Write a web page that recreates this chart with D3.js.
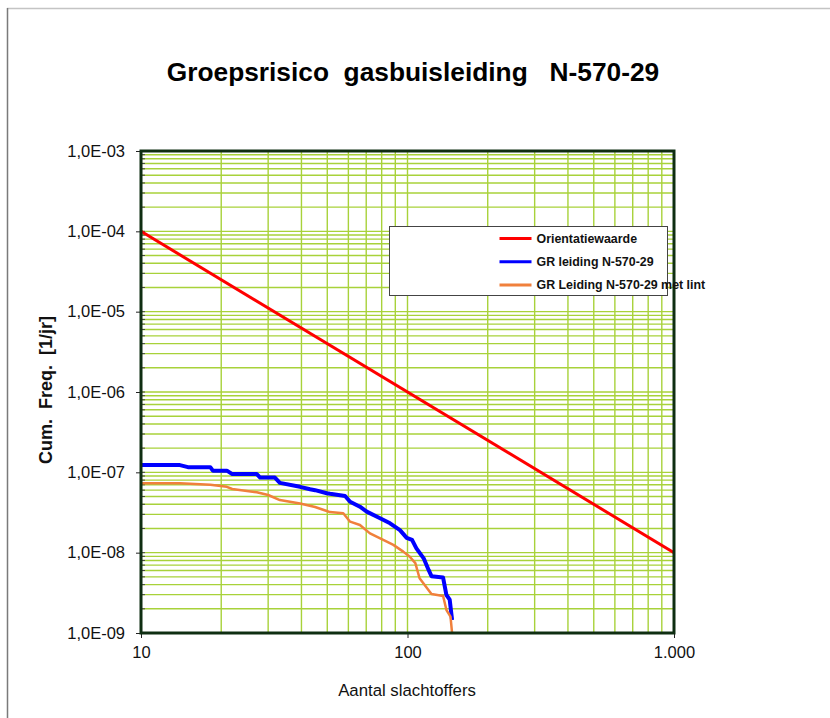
<!DOCTYPE html>
<html>
<head>
<meta charset="utf-8">
<script src="https://cdn.jsdelivr.net/npm/d3@7"></script>
<style>
  html, body { margin: 0; padding: 0; background: #fff; }
  svg { display: block; font-family: "Liberation Sans", Arial, sans-serif; }
</style>
</head>
<body>
<svg id="chart" width="830" height="718"></svg>
<script>
// FN-curve: cumulative frequency of N or more victims
const titleText = "Groepsrisico  gasbuisleiding   N-570-29";
const xTitle = "Aantal slachtoffers";
const yTitle = "Cum.  Freq.  [1/jr]";

const xDomain = [10, 1000];
const yDomain = [1e-9, 1e-3];
const xTickValues = [10, 100, 1000];
const xTickLabels = ["10", "100", "1.000"];
const yTickValues = [1e-3, 1e-4, 1e-5, 1e-6, 1e-7, 1e-8, 1e-9];
const yTickLabels = ["1,0E-03", "1,0E-04", "1,0E-05", "1,0E-06", "1,0E-07", "1,0E-08", "1,0E-09"];

// Oriëntatiewaarde: 1e-4 at N=10, 1e-8 at N=1000
const orientatieN = [10, 1000];
const orientatieF = [1e-4, 1e-8];

// GR leiding N-570-29
const leidingN = [10, 14, 15, 18.2, 18.6, 21, 22, 27.2, 28, 31.8, 33.2, 39.5, 43.1, 45, 49.8, 51.2, 58.3, 60.9, 66.3, 70.3, 78.9, 86, 93.7, 99.3, 104, 108, 115, 120, 123, 136, 140, 144, 147];
const leidingF = [1.23e-7, 1.23e-7, 1.16e-7, 1.16e-7, 1.05e-7, 1.05e-7, 9.5e-8, 9.5e-8, 8.6e-8, 8.6e-8, 7.4e-8, 6.6e-8, 6.15e-8, 6.0e-8, 5.5e-8, 5.4e-8, 5.07e-8, 4.3e-8, 3.73e-8, 3.24e-8, 2.68e-8, 2.32e-8, 1.91e-8, 1.53e-8, 1.44e-8, 1.13e-8, 8.5e-9, 6.1e-9, 5.1e-9, 4.9e-9, 2.97e-9, 2.6e-9, 1.45e-9];

// GR Leiding N-570-29 met lint
const lintN = [10, 14, 18.2, 21, 22, 27.2, 30, 33.2, 39.5, 45, 49.8, 51.2, 57.4, 60.9, 66.3, 72.3, 81.1, 88.5, 96.4, 102, 107, 111, 116, 123, 136, 140, 145, 147];
const lintF = [7.3e-8, 7.3e-8, 7.0e-8, 6.6e-8, 6.2e-8, 5.64e-8, 5.22e-8, 4.52e-8, 4.1e-8, 3.7e-8, 3.3e-8, 3.2e-8, 3.09e-8, 2.43e-8, 2.21e-8, 1.74e-8, 1.44e-8, 1.25e-8, 1.03e-8, 8.9e-9, 7.4e-9, 4.8e-9, 3.95e-9, 3.06e-9, 2.89e-9, 1.93e-9, 1.6e-9, 1.0e-9];

const seriesNames = ["Orientatiewaarde", "GR leiding N-570-29", "GR Leiding N-570-29 met lint"];
const seriesColors = ["#ff0000", "#0000ff", "#f0803c"];
const seriesWidths = [3, 4, 2.5];

const series = [
  { name: seriesNames[0], n: orientatieN, f: orientatieF },
  { name: seriesNames[1], n: leidingN, f: leidingF },
  { name: seriesNames[2], n: lintN, f: lintF }
].map((s, i) => ({ ...s, color: seriesColors[i], width: seriesWidths[i],
  pts: s.n.map((v, j) => [v, s.f[j]]) }));

const svg = d3.select("#chart");
const plot = { left: 141, top: 151, right: 674, bottom: 633 };
const labelFont = "'Liberation Sans', Arial, sans-serif";

// outer chart frame (only top and left edges are in view)
svg.append("line").attr("x1", 7).attr("x2", 830).attr("y1", 8.5).attr("y2", 8.5)
  .attr("stroke", "#c4c4c4").attr("stroke-width", 1.5);
svg.append("line").attr("x1", 7.5).attr("x2", 7.5).attr("y1", 8).attr("y2", 718)
  .attr("stroke", "#7a7a7a").attr("stroke-width", 1.5);

const x = d3.scaleLog().domain(xDomain).range([plot.left, plot.right]);
const y = d3.scaleLog().domain(yDomain).range([plot.bottom, plot.top]);

// minor/major grid values
const xGrid = [];
for (let d = 10; d < 1000; d *= 10) for (let k = 1; k < 10; k++) xGrid.push(d * k);
const yGrid = [];
for (let e = -9; e < -3; e++) for (let k = 1; k < 10; k++) yGrid.push(k * Math.pow(10, e));

const grid = svg.append("g").attr("stroke", "#a8d23a").attr("stroke-width", 1.4);
grid.selectAll("line.vx").data(xGrid.filter(v => v > 10)).join("line")
  .attr("x1", d => x(d)).attr("x2", d => x(d))
  .attr("y1", plot.top).attr("y2", plot.bottom);
grid.selectAll("line.hy").data(yGrid.filter(v => v > 1e-9)).join("line")
  .attr("y1", d => y(d)).attr("y2", d => y(d))
  .attr("x1", plot.left).attr("x2", plot.right);

// inner minor ticks on the y axis
svg.append("g").attr("stroke", "#444").attr("stroke-width", 1)
  .selectAll("line").data(yGrid).join("line")
  .attr("x1", plot.left).attr("x2", plot.left + 4)
  .attr("y1", d => y(d)).attr("y2", d => y(d));

// axes with labels
const xAxis = d3.axisBottom(x).tickValues(xTickValues)
  .tickFormat((d, i) => xTickLabels[i]).tickSize(5).tickPadding(8);
const gx = svg.append("g").attr("transform", `translate(0,${plot.bottom})`).call(xAxis);
gx.select(".domain").remove();
gx.selectAll("line").attr("stroke", "#222");
gx.selectAll("text").attr("font-size", 16.5).attr("fill", "#111").attr("font-family", labelFont);

const yAxis = d3.axisLeft(y).tickValues(yTickValues)
  .tickFormat((d, i) => yTickLabels[i]).tickSize(5).tickPadding(11);
const gy = svg.append("g").attr("transform", `translate(${plot.left},0)`).call(yAxis);
gy.select(".domain").remove();
gy.selectAll("line").attr("stroke", "#222");
gy.selectAll("text").attr("font-size", 16.5).attr("fill", "#111").attr("font-family", labelFont);

// data lines
const clipId = "plotclip";
svg.append("clipPath").attr("id", clipId).append("rect")
  .attr("x", plot.left).attr("y", plot.top - 2)
  .attr("width", plot.right - plot.left).attr("height", plot.bottom - plot.top + 2);
const line = d3.line().x(d => x(d[0])).y(d => y(d[1]));
svg.append("g").attr("clip-path", `url(#${clipId})`)
  .selectAll("path").data(series).join("path")
  .attr("d", d => line(d.pts))
  .attr("fill", "none")
  .attr("stroke", d => d.color)
  .attr("stroke-width", d => d.width)
  .attr("stroke-linejoin", "round");

// plot frame
svg.append("rect")
  .attr("x", plot.left).attr("y", plot.top)
  .attr("width", plot.right - plot.left).attr("height", plot.bottom - plot.top)
  .attr("fill", "none").attr("stroke", "#0f2e12").attr("stroke-width", 3);

// legend
const lg = svg.append("g").attr("transform", "translate(389.5,226.5)");
lg.append("rect").attr("width", 278).attr("height", 69)
  .attr("fill", "#fff").attr("stroke", "#444").attr("stroke-width", 1);
const rows = lg.selectAll("g.row").data(series).join("g")
  .attr("transform", (d, i) => `translate(0,${12 + i * 23.3})`);
rows.append("line").attr("x1", 110).attr("x2", 142).attr("y1", 0).attr("y2", 0)
  .attr("stroke", d => d.color).attr("stroke-width", 3);
rows.append("text").attr("x", 147).attr("y", 0).attr("dy", "0.35em")
  .attr("font-size", 12.4).attr("font-weight", "bold").attr("fill", "#111")
  .text(d => d.name);

// titles
svg.append("text").attr("x", 413).attr("y", 81).attr("text-anchor", "middle")
  .attr("font-size", 26.3).attr("font-weight", "bold").attr("fill", "#000")
  .attr("xml:space", "preserve").style("white-space", "pre")
  .text(titleText);
svg.append("text").attr("x", 407).attr("y", 696).attr("text-anchor", "middle")
  .attr("font-size", 16.8).attr("fill", "#111").text(xTitle);
svg.append("text").attr("transform", "translate(52,390) rotate(-90)")
  .attr("text-anchor", "middle").attr("font-size", 18).attr("font-weight", "bold")
  .attr("fill", "#111").attr("xml:space", "preserve").style("white-space", "pre")
  .text(yTitle);
</script>
</body>
</html>
